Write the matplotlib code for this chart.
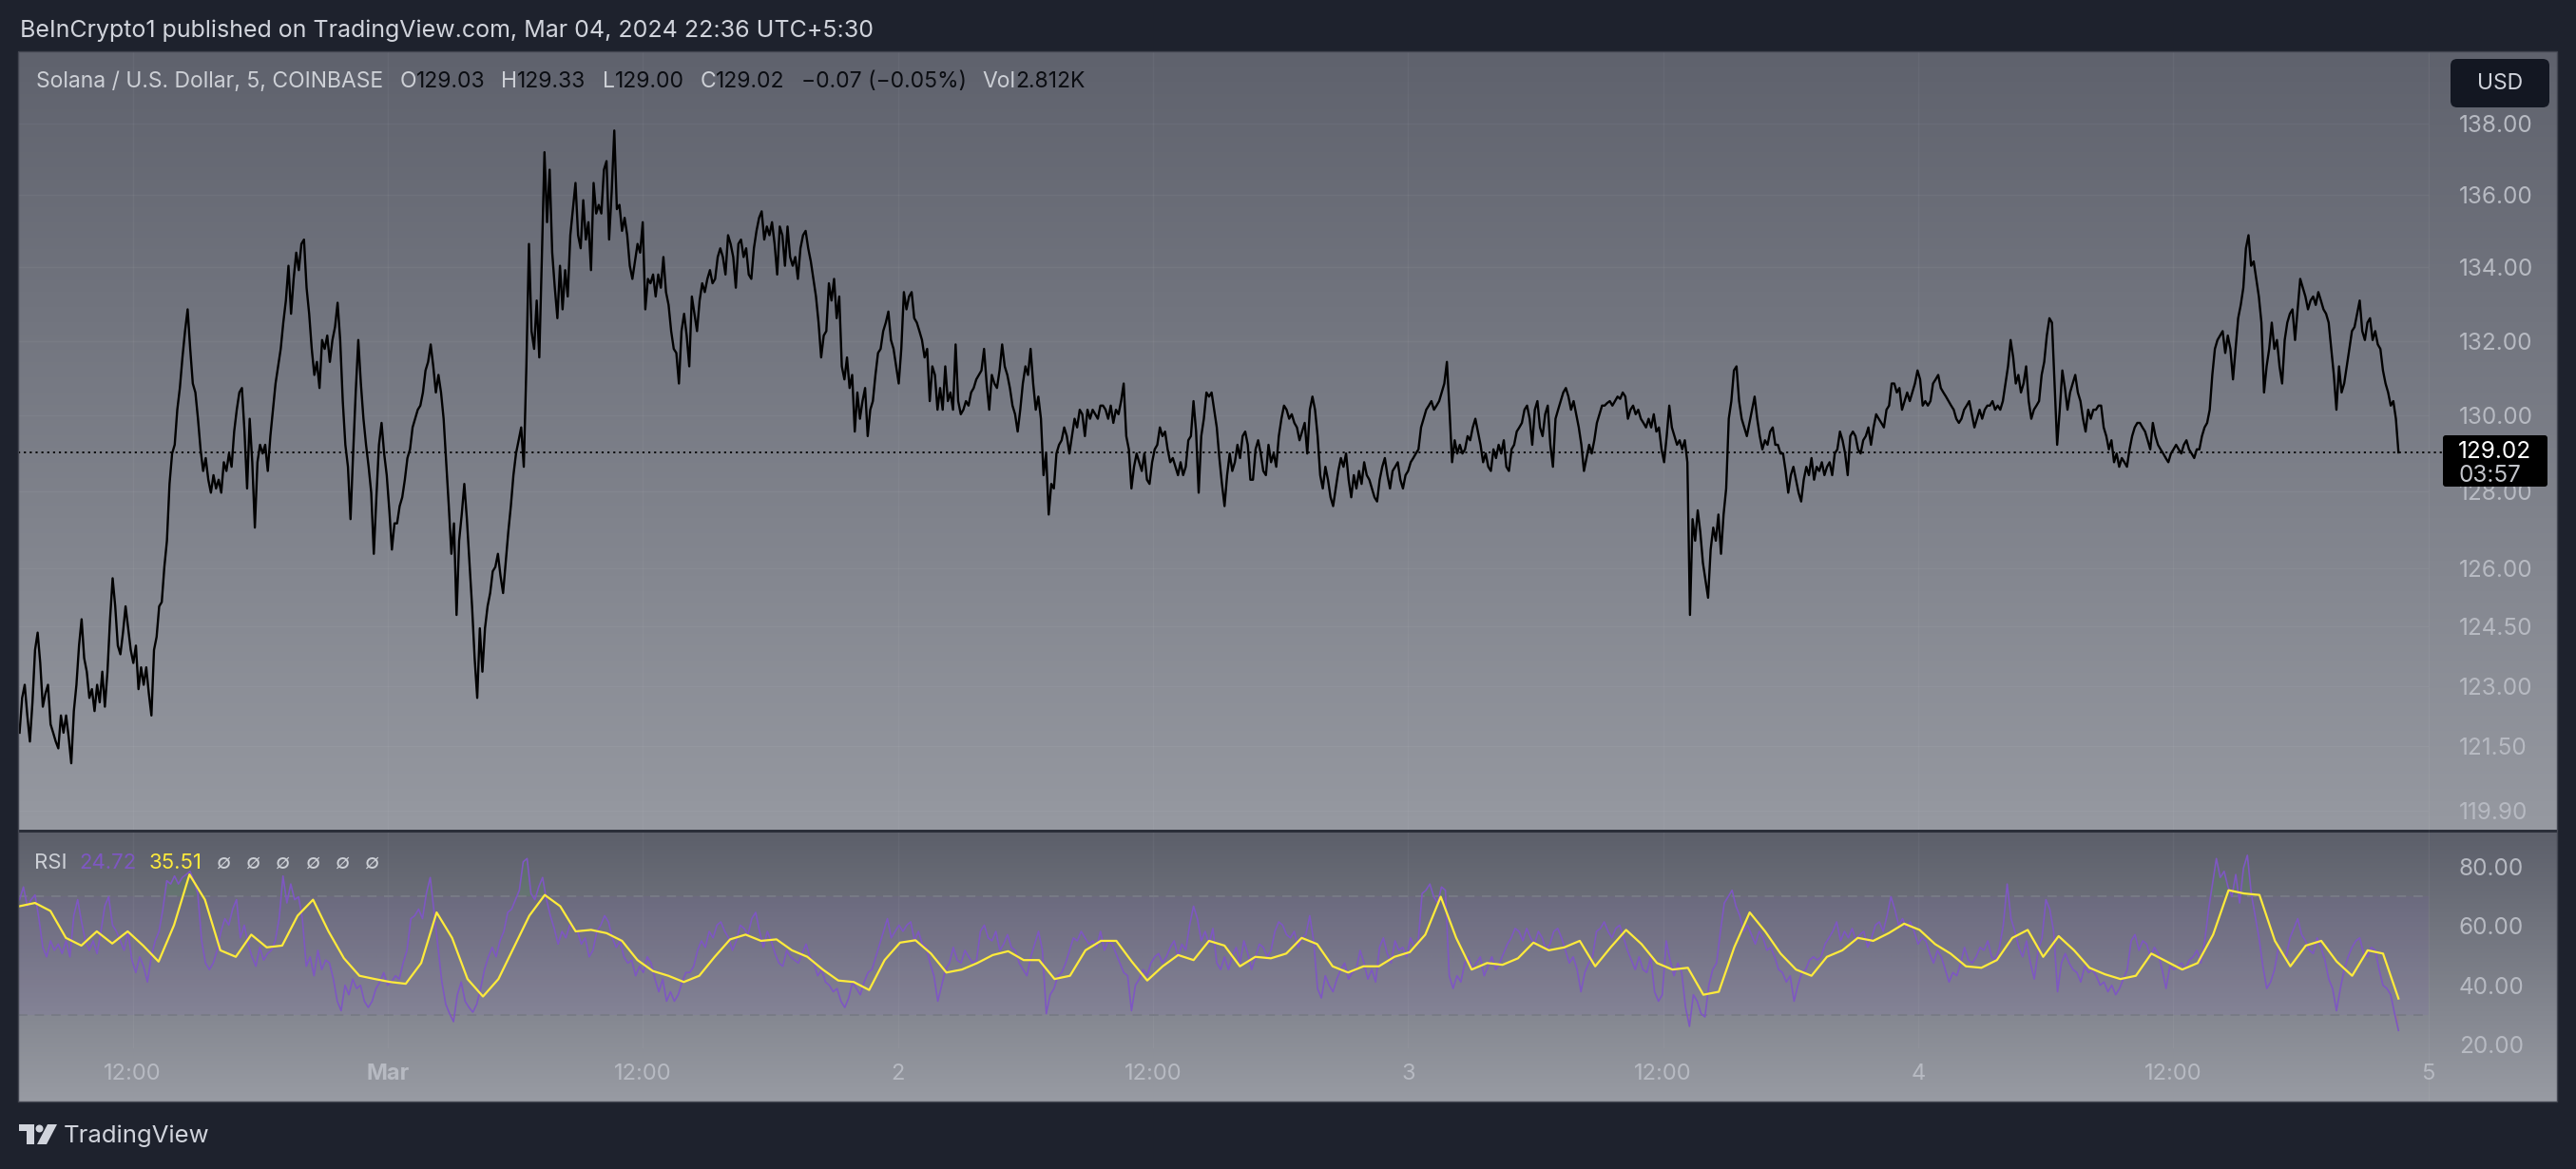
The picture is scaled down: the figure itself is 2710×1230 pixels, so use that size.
import numpy as np
import matplotlib
matplotlib.use("Agg")
import matplotlib.pyplot as plt
from matplotlib.patches import Rectangle, FancyBboxPatch, Circle, Polygon
from matplotlib.ticker import NullLocator, NullFormatter
from matplotlib.transforms import IdentityTransform

plt.rcParams['font.family'] = ['Inter', 'DejaVu Sans']

W, H = 2710, 1230

# texts shown on the chart
title = "BeInCrypto1 published on TradingView.com, Mar 04, 2024 22:36 UTC+5:30"
symbol = "Solana / U.S. Dollar, 5, COINBASE"
ohlc = [("O", "129.03"), ("H", "129.33"), ("L", "129.00"), ("C", "129.02")]
change = "\u22120.07 (\u22120.05%)"
volume = "2.812K"
countdown = "03:57"

# time in hours from Mar 1 00:00 (UTC+5:30), first and last 5 min bar
t_first, t_last = -17.33, 94.6
time_ticks = [-12, 0, 12, 24, 36, 48, 60, 72, 84, 96]
time_labels = ["12:00", "Mar", "12:00", "2", "12:00", "3", "12:00", "4", "12:00", "5"]
price_ticks = [119.90, 121.50, 123.00, 124.50, 126.00, 128.00, 130.00, 132.00, 134.00, 136.00, 138.00]
rsi_ticks = [20, 40, 60, 80]
last_price = 129.02
last_rsi = 24.72
last_rsi_ma = 35.51

# SOL/USD close
price = [
    121.83, 122.70, 123.03, 122.26, 121.61, 122.59, 123.91, 124.35, 123.58, 122.48,
    122.81, 123.03, 122.04, 121.83, 121.61, 121.44, 122.26, 121.83, 122.26, 121.72,
    121.07, 122.37, 123.03, 124.02, 124.69, 123.70, 123.36, 122.70, 122.92, 122.37,
    123.03, 122.59, 123.36, 122.48, 123.36, 124.69, 125.74, 125.02, 124.02, 123.80,
    124.35, 125.02, 124.46, 123.91, 123.58, 124.02, 122.92, 123.47, 123.03, 123.47,
    122.81, 122.26, 123.91, 124.24, 125.02, 125.13, 126.03, 126.71, 128.19, 128.99,
    129.22, 130.15, 130.73, 131.55, 132.26, 132.85, 131.78, 130.85, 130.61, 129.91,
    129.10, 128.53, 128.87, 128.30, 127.96, 128.42, 128.07, 128.30, 127.96, 128.76,
    128.53, 128.99, 128.64, 129.57, 130.15, 130.61, 130.73, 129.57, 128.07, 129.91,
    128.76, 127.05, 128.76, 129.22, 128.99, 129.22, 128.53, 129.45, 130.15, 130.85,
    131.31, 131.78, 132.49, 133.09, 134.04, 132.73, 133.68, 134.40, 133.92, 134.64,
    134.76, 133.44, 132.73, 131.78, 131.08, 131.43, 130.73, 132.02, 131.78, 132.14,
    131.43, 132.02, 132.37, 133.03, 132.02, 130.38, 129.22, 128.64, 127.27, 128.99,
    130.61, 132.02, 130.85, 129.91, 129.22, 128.64, 127.96, 126.37, 127.84, 129.22,
    129.80, 128.99, 128.42, 127.50, 126.48, 127.16, 127.16, 127.61, 127.84, 128.30,
    128.87, 129.10, 129.68, 129.91, 130.15, 130.26, 130.61, 131.20, 131.43, 131.90,
    131.31, 130.61, 131.08, 130.61, 129.91, 128.76, 127.61, 126.37, 127.16, 124.80,
    126.71, 127.39, 128.19, 127.27, 126.14, 125.02, 123.70, 122.70, 124.46, 123.36,
    124.46, 125.02, 125.36, 125.92, 126.03, 126.37, 125.80, 125.36, 126.14, 126.93,
    127.61, 128.42, 128.99, 129.34, 129.68, 128.64, 131.31, 134.64, 132.26, 131.78,
    133.09, 131.55, 134.28, 137.19, 135.24, 136.70, 134.40, 133.44, 132.61, 134.04,
    132.85, 133.92, 133.20, 134.88, 135.60, 136.33, 134.88, 134.52, 135.85, 134.76,
    135.24, 133.92, 136.33, 135.48, 135.72, 135.48, 136.70, 136.94, 134.76, 136.09,
    137.80, 135.60, 135.72, 135.00, 135.36, 134.88, 134.04, 133.68, 134.16, 134.64,
    134.40, 135.24, 132.85, 133.68, 133.56, 133.80, 133.20, 133.80, 133.44, 134.28,
    133.32, 132.97, 132.26, 131.78, 131.67, 130.85, 132.26, 132.73, 132.14, 131.31,
    133.20, 132.73, 132.26, 133.09, 133.56, 133.32, 133.68, 133.92, 133.56, 133.68,
    134.28, 134.52, 134.28, 133.80, 134.88, 134.64, 134.28, 133.44, 134.64, 134.76,
    134.28, 134.52, 133.80, 133.68, 134.52, 135.00, 135.36, 135.54, 134.76, 135.12,
    134.88, 135.24, 134.64, 133.80, 135.12, 134.88, 134.04, 135.12, 134.28, 134.04,
    134.28, 133.68, 134.52, 134.88, 135.00, 134.52, 134.16, 133.68, 133.20, 132.49,
    131.55, 132.14,
    132.26, 133.56, 133.09, 133.68, 132.61, 133.20, 131.31, 130.96, 131.55, 130.73,
    131.08, 129.57, 130.61, 129.91, 130.38, 130.73, 129.45, 130.15, 130.38, 131.08,
    131.67, 131.78, 132.26, 132.49, 132.79, 132.02, 131.78, 131.31, 130.85, 131.78,
    133.32, 132.85, 133.20, 133.32, 132.61, 132.49, 132.26, 132.02, 131.55, 131.78,
    130.38, 131.31, 131.08, 130.15, 130.73, 130.15, 131.31, 130.38, 130.61, 130.15,
    131.90, 130.38, 130.03, 130.15, 130.38, 130.26, 130.61, 130.73, 130.96, 131.08,
    131.20, 131.78, 130.85, 130.15, 131.08, 130.85, 130.73, 131.20, 131.90, 131.31,
    131.08, 130.73, 130.26, 130.03, 129.57, 130.15, 130.85, 131.31, 131.08, 131.78,
    130.85, 130.15, 130.50, 129.91, 128.42, 128.99, 127.39, 128.19, 128.07, 128.99,
    129.22, 129.34, 129.68, 129.45, 128.99, 129.45, 129.91, 129.68, 130.15, 130.03,
    129.45, 130.15, 129.91, 130.15, 130.03, 129.91, 130.26, 130.26, 130.15, 129.91,
    130.26, 129.80, 130.15, 130.03, 130.38, 130.85, 129.45, 129.10, 128.07, 128.64,
    128.99, 128.76, 128.53, 128.99, 128.30, 128.19, 128.76, 129.10, 129.22, 129.68,
    129.45, 129.57, 129.10, 128.76, 128.87, 128.64, 128.42, 128.76, 128.42, 128.64,
    129.34, 129.45, 130.38, 129.57, 127.96, 129.45, 129.91, 130.61, 130.50, 130.61,
    130.15, 129.68, 128.87, 128.19, 127.61, 128.42, 128.99, 128.53, 128.76, 129.22,
    128.87, 129.45, 129.57, 129.22, 128.30, 128.30, 129.10, 129.34, 128.99, 128.53,
    128.42, 129.22, 128.76, 128.99, 128.64, 129.45, 129.91, 130.26, 130.15, 129.91,
    130.03, 129.80, 129.68, 129.34, 129.57, 129.80, 128.99, 130.15, 130.50, 130.15,
    129.45, 128.42, 128.07, 128.64, 128.30, 127.84, 127.61, 128.07, 128.53, 128.87,
    128.64, 128.99, 128.30, 127.84, 128.42, 128.07, 128.53, 128.19, 128.76, 128.42,
    128.30, 128.07, 127.84, 127.73, 128.30, 128.64, 128.87, 128.42, 128.07, 128.53,
    128.64, 128.76, 128.30, 128.07, 128.42, 128.53, 128.76, 128.87, 128.99, 129.10,
    129.68, 129.91, 130.15, 130.26, 130.38, 130.15, 130.26, 130.38, 130.61, 130.85,
    131.43, 130.15, 128.76, 129.34, 128.99, 129.22, 128.99, 129.10, 129.45, 129.34,
    129.68, 129.91, 129.57, 129.22, 128.76, 128.99, 128.64, 128.53, 129.10, 128.87,
    129.22, 128.99, 129.34, 128.64, 128.53, 129.10, 129.22, 129.57, 129.68, 129.80,
    130.15, 130.26, 129.91, 129.22, 130.15, 130.38, 129.68, 129.45, 130.03, 130.26,
    129.22, 128.64, 129.91, 130.15, 130.38, 130.61, 130.73, 130.50, 130.15, 130.38,
    130.03, 129.68, 129.22, 128.53, 128.87, 129.22, 128.99, 129.34, 129.80, 130.03,
    130.26, 130.26, 130.33, 130.38, 130.26, 130.38, 130.50, 130.44, 130.61, 130.50,
    129.91,
    130.15, 130.26, 130.03, 130.15, 129.91, 129.80, 129.68, 129.91, 129.68, 130.03,
    129.57, 129.68, 129.10, 128.76, 129.45, 130.26, 129.68, 129.45, 129.22, 129.34,
    129.10, 129.34, 128.76, 124.80, 127.27, 126.71, 127.50, 126.93, 126.14, 125.69,
    125.24, 126.48, 127.05, 126.71, 127.39, 126.37, 127.39, 128.07, 129.91, 130.38,
    131.20, 131.31, 130.38, 129.91, 129.68, 129.45, 129.80, 130.15, 130.50, 129.91,
    129.45, 129.10, 129.34, 129.22, 129.57, 129.68, 129.22, 129.22, 128.99, 128.99,
    128.53, 127.96, 128.42, 128.64, 128.30, 127.96, 127.73, 128.30, 128.64, 128.42,
    128.87, 128.30, 128.64, 128.53, 128.76, 128.42, 128.64, 128.76, 128.42, 128.99,
    129.10, 129.57, 129.34, 128.99, 128.42, 129.45, 129.57, 129.45, 129.10, 128.99,
    129.34, 129.45, 129.68, 129.22, 129.68, 130.03, 129.91, 129.80, 129.68, 130.15,
    130.26, 130.85, 130.85, 130.61, 130.73, 130.15, 130.38, 130.61, 130.38, 130.61,
    130.85, 131.20, 130.96, 130.26, 130.38, 130.26, 130.38, 130.85, 130.96, 131.08,
    130.73, 130.61, 130.50, 130.38, 130.26, 130.15, 129.91, 129.80, 129.91, 130.15,
    130.26, 130.38, 130.03, 129.68, 129.91, 130.15, 129.91, 130.15, 130.26, 130.26,
    130.38, 130.15, 130.26, 130.15, 130.38, 130.85, 131.31, 132.02, 131.55, 130.85,
    131.08, 130.61, 130.85, 131.31, 130.38, 129.91, 130.15, 130.26, 130.38, 131.08,
    131.43, 132.14, 132.61, 132.49, 130.85, 129.22, 130.15, 131.20, 130.73, 130.15,
    130.61, 130.85, 131.08, 130.61, 130.38, 129.91, 129.57, 130.15, 129.91, 130.15,
    130.15, 130.26, 130.26, 129.68, 129.45, 129.10, 129.34, 128.76, 128.99, 128.64,
    128.87, 128.76, 128.64, 129.10, 129.45, 129.68, 129.80, 129.80, 129.68, 129.57,
    129.34, 129.10, 129.80, 129.45, 129.22, 129.10, 128.99, 128.87, 128.76, 128.99,
    129.10, 129.22, 129.10, 128.99, 129.22, 129.34, 129.10, 128.99, 128.87, 129.10,
    129.10, 129.45, 129.68, 129.80, 130.15, 131.08, 131.78, 132.02, 132.14, 132.26,
    131.67, 132.14, 131.78, 130.96, 131.78, 132.61, 132.97, 133.44, 134.52, 134.88,
    134.04, 134.16, 133.68, 133.20, 132.49, 130.61, 131.31, 131.78, 132.49, 131.78,
    132.02, 131.31, 130.85, 132.02, 132.49, 132.73, 132.85, 132.02, 132.85, 133.68,
    133.44, 133.20, 132.85, 133.09, 133.20, 132.97, 133.32, 133.09, 132.85, 132.73,
    132.49, 131.78, 131.08, 130.15, 131.31, 130.61, 130.85, 131.31, 131.78, 132.26,
    132.37, 132.73, 133.09, 132.26, 132.02, 132.49, 132.61, 132.02, 132.26, 131.90,
    131.78, 131.20, 130.85, 130.61, 130.26, 130.38, 129.91, 129.02,
]

# RSI (14)
rsi = [
    68.9, 73.2, 66.7, 68.9, 70.5, 62.5, 52.8, 49.6, 55.0, 51.8,
    53.9, 50.7, 55.0, 49.6, 63.5, 68.9, 61.4, 55.0, 51.8, 55.0,
    50.7, 58.2, 66.7, 69.9, 60.3, 58.2, 55.0, 51.8, 58.2, 48.5,
    44.3, 49.6, 46.4, 41.1, 49.6, 55.0, 58.2, 65.7, 75.3, 74.2,
    76.9, 74.2, 76.4, 77.4, 78.5, 75.3, 71.0, 55.0, 47.5, 45.3,
    47.5, 51.8, 58.2, 62.5, 60.3, 65.7, 68.9, 56.0, 60.3, 53.9,
    49.6, 46.4, 52.8, 48.5, 50.7, 51.8, 55.0, 62.5, 76.9, 67.8,
    74.2, 68.9, 69.9, 62.5, 46.4, 49.6, 43.2, 51.8, 45.3, 48.5,
    47.5, 42.1, 34.6, 31.4, 40.0, 36.8, 42.1, 38.9, 40.0, 34.6,
    32.5, 34.6, 38.9, 41.1, 44.3, 40.0, 41.1, 43.2, 42.1, 47.5,
    51.8, 62.5, 63.5, 65.7, 62.5, 71.0, 76.4, 64.6, 52.8, 41.1,
    33.6, 30.4, 27.7, 36.8, 41.1, 34.6, 32.5, 30.9, 33.6, 38.9,
    45.3, 49.6, 52.8, 49.6, 55.0, 58.2, 64.6, 65.7, 68.9, 72.1,
    81.7, 82.8, 71.0, 68.9, 73.2, 76.4, 68.9, 63.5, 59.2, 53.9,
    58.2, 56.0, 60.3, 59.2, 58.2, 53.9, 56.0, 49.6, 51.8, 58.2,
    60.3, 63.5, 61.4, 56.0, 52.8, 55.0, 49.6, 47.5, 48.5, 43.2,
    46.4, 44.3, 49.6, 47.5, 42.1, 37.8, 42.1, 34.6, 37.8, 34.6,
    36.8, 41.1, 44.3, 44.3, 46.4, 51.8, 55.0, 52.8, 58.2, 56.0,
    60.3, 61.4, 58.2, 56.0, 51.8, 55.0, 60.3, 59.2, 57.1, 62.5,
    64.6, 58.2, 52.8, 58.2, 55.0, 50.7, 47.5, 46.4, 51.8, 49.6,
    48.5, 47.5, 50.7, 53.9, 49.6, 47.5, 43.2, 45.3, 41.1, 40.0,
    37.8, 38.9, 34.6, 32.5, 35.7, 41.1, 38.9, 36.8, 41.1, 44.3,
    45.3, 49.6, 53.9, 58.2, 62.5, 56.0, 58.2, 60.3, 58.2, 60.3,
    61.4, 55.0, 58.2, 53.9, 52.8, 47.5, 43.2, 34.6, 40.0, 45.3,
    47.5, 52.8, 48.5, 47.5, 51.8, 49.6, 47.5, 48.5, 58.2, 60.3,
    56.0, 55.0, 58.2, 51.8, 53.9, 57.1, 52.8, 51.8, 47.5, 45.3,
    43.2, 49.6, 53.9, 58.2, 51.8, 30.4, 36.8, 38.9, 43.2, 44.3,
    47.5, 51.8, 56.0, 55.0, 58.2, 56.0, 53.9, 55.0, 52.8, 58.2,
    51.8, 55.0, 53.9, 50.7, 47.5, 44.3, 43.2, 31.4, 40.0, 42.1,
    45.3, 43.2, 47.5, 49.6, 50.7, 47.5, 49.6, 52.8, 55.0, 49.6,
    53.9, 51.8, 60.3, 66.7, 62.5, 55.0, 58.2, 53.9, 59.2, 47.5,
    45.3, 49.6,
    45.3, 49.6, 52.8, 47.5, 55.0, 50.7, 45.3, 49.6, 53.9, 52.8,
    49.6, 51.8, 58.2, 61.4, 60.3, 57.1, 56.0, 58.2, 52.8, 56.0,
    57.1, 63.5, 55.0, 38.9, 35.7, 43.2, 40.0, 37.8, 42.1, 45.3,
    47.5, 42.1, 44.3, 45.3, 51.8, 47.5, 42.1, 45.3, 41.1, 52.8,
    56.0, 50.7, 47.5, 55.0, 51.8, 52.8, 49.6, 56.0, 52.8, 55.0,
    71.0, 72.1, 74.2, 69.9, 67.8, 73.2, 72.1, 43.2, 38.9, 43.2,
    41.1, 47.5, 49.6, 45.3, 47.5, 49.6, 43.2, 46.4, 49.6, 45.3,
    47.5, 50.7, 53.9, 56.0, 59.2, 58.2, 55.0, 59.2, 56.0, 53.9,
    58.2, 56.0, 51.8, 53.9, 58.2, 59.2, 56.0, 51.8, 47.5, 49.6,
    45.3, 37.8, 44.3, 47.5, 49.6, 58.2, 59.2, 61.4, 58.2, 56.0,
    59.2, 60.3, 56.0, 51.8, 48.5, 45.3, 49.6, 45.3, 44.3, 49.6,
    37.8, 34.6, 36.8, 55.0, 48.5, 43.2, 47.5, 44.3, 32.5, 26.1,
    36.8, 34.6, 30.4, 29.3, 40.0, 45.3, 47.5, 58.2, 67.8, 69.9,
    72.1, 66.7, 63.5, 58.2, 60.3, 57.1, 53.9, 58.2, 56.0, 51.8,
    52.8, 49.6, 45.3, 44.3, 41.1, 43.2, 34.6, 40.0, 44.3, 45.3,
    48.5, 49.6, 48.5, 49.6, 53.9, 56.0, 58.2, 61.4, 55.0, 58.2,
    56.0, 59.2, 55.0, 57.1, 58.2, 52.8, 56.0, 60.3, 61.4, 58.2,
    63.5, 69.9, 65.7, 60.3, 62.5, 59.2, 61.4, 58.2, 53.9, 56.0,
    55.0, 50.7, 47.5, 51.8, 49.6, 45.3, 41.1, 44.3, 43.2, 47.5,
    52.8, 48.5, 47.5, 49.6, 52.8, 51.8, 55.0, 49.6, 48.5, 52.8,
    60.3, 74.2, 62.5, 58.2, 52.8, 49.6, 55.0, 47.5, 42.1, 51.8,
    56.0, 68.9, 65.7, 58.2, 37.8, 47.5, 50.7, 47.5, 45.3, 44.3,
    41.1, 46.4, 44.3, 45.3, 43.2, 40.0, 41.1, 37.8, 40.0, 36.8,
    38.9, 42.1, 45.3, 55.0, 57.1, 51.8, 55.0, 53.9, 49.6, 52.8,
    50.7, 45.3, 38.9, 46.4, 45.3, 46.4, 47.5, 45.3, 48.5, 49.6,
    51.8, 47.5, 55.0, 65.7, 74.2, 82.8, 76.4, 78.5, 73.2, 69.9,
    77.4, 67.8, 79.6, 83.9, 71.0, 63.5, 56.0, 46.4, 38.9, 41.1,
    45.3, 52.8, 50.7, 49.6, 56.0, 59.2, 62.5, 57.1, 55.0, 51.8,
    50.7, 56.0, 52.8, 48.5, 42.1, 38.9, 31.4, 38.9, 45.3, 49.6,
    52.8, 55.0, 56.0, 50.7, 49.6, 52.8, 51.8, 45.3, 40.0, 38.9,
    36.8, 30.4, 24.72,
]

# RSI-based moving average (yellow)
rsi_ma = [
    66.7, 67.8, 65.1, 56.0, 53.4, 58.2, 54.1, 58.2, 53.4, 48.0,
    60.3, 77.4, 68.9, 51.8, 49.6, 57.1, 52.8, 53.4, 63.5, 68.9,
    58.2, 49.1, 43.2, 42.1, 41.1, 40.5, 47.5, 64.6, 56.0, 42.1,
    36.2, 42.1, 52.8, 63.5, 70.5, 66.7, 58.2, 58.7, 57.6, 55.0,
    48.5, 44.8, 43.2, 41.1, 43.2, 49.6, 55.5, 57.1, 55.0, 55.5,
    51.8, 49.6, 45.3, 41.6, 41.1, 38.4, 48.5, 54.4, 55.2, 50.7,
    44.3, 45.3, 47.5, 50.2, 51.5, 48.5, 48.5, 42.1, 43.2, 51.8,
    55.0, 55.0, 48.0, 41.6, 46.4, 50.2, 48.5, 55.0, 53.4,
    46.4, 49.6, 49.1, 50.7, 56.0, 53.9, 46.4, 44.3, 46.4, 46.4,
    49.6, 51.2, 57.1, 69.9, 56.0, 45.3, 47.5, 46.9, 49.1, 54.4,
    51.8, 52.8, 55.0, 46.4, 52.8, 58.7, 53.9, 47.5, 45.3, 45.9,
    36.8, 37.8, 52.8, 64.6, 58.2, 50.7, 45.3, 43.2, 49.6, 51.8,
    56.0, 55.0, 57.6, 60.8, 58.7, 53.9, 50.7, 46.4, 45.9, 48.5,
    56.0, 58.7, 49.6, 56.6, 51.8, 45.9, 43.7, 42.1, 43.2, 50.7,
    48.0, 45.3, 47.5, 57.1, 72.1, 71.0, 70.5, 55.0, 46.4, 53.4,
    55.0, 48.0, 43.2, 51.8, 50.7, 35.51,
]


def fx(x):
    return x / W


def fy(y):
    return 1 - y / H


def box(x0, y0, x1, y1):
    # pixel box (top-left origin) -> figure rect
    return [fx(x0), fy(y1), fx(x1) - fx(x0), fy(y0) - fy(y1)]


fig = plt.figure(figsize=(W / 100, H / 100), dpi=100, facecolor='#1e222d')


def gradient(rect, top, bottom):
    g = fig.add_axes(rect, zorder=-10)
    g.axis('off')
    c = np.linspace(np.array(top, float), np.array(bottom, float), 256) / 255
    g.imshow(c[:, None, :], aspect='auto', extent=[0, 1, 0, 1])


gradient(box(19, 54, 2690, 875), (95, 98, 109), (150, 153, 161))
gradient(box(19, 875, 2690, 1159), (92, 95, 106), (152, 155, 163))

X0, X1 = 19, 2555
XLIM = (-17.4, 96.02)
tick_color = '#b7bac2'
fs = 17.5

# price pane
ax = fig.add_axes(box(X0, 54, X1, 875))
ax.patch.set_alpha(0)
t_p = np.linspace(t_first, t_last, len(price))
ax.plot(t_p, price, color='black', lw=1.7)
ax.set_yscale('log')
ax.set_xlim(*XLIM)
ax.set_ylim(119.39, 140.05)
ax.set_yticks(price_ticks, [f"{v:.2f}" for v in price_ticks])
ax.yaxis.set_minor_locator(NullLocator())
ax.yaxis.set_minor_formatter(NullFormatter())
ax.yaxis.tick_right()
ax.tick_params(axis='y', length=0, pad=23, labelsize=fs, labelcolor=tick_color)
ax.set_xticks(time_ticks)
ax.tick_params(axis='x', length=0, labelbottom=False)
ax.grid(True, color='white', alpha=0.045, lw=1)
for s in ax.spines.values():
    s.set_visible(False)
ax.axhline(last_price, xmax=1.006, color='black', lw=1.3, ls=(0, (1.2, 2.2)), clip_on=False)

# RSI pane
ax2 = fig.add_axes(box(X0, 875, X1, 1103))
ax2.patch.set_alpha(0)
t_r = np.linspace(t_first, t_last, len(rsi))
t_m = np.linspace(t_first, t_last, len(rsi_ma))
r_arr = np.array(rsi)
ax2.axhspan(30, 70, color='#7e57c2', alpha=0.1, lw=0)
ax2.axhline(70, color='#787b86', lw=1.4, ls=(0, (5, 4)))
ax2.axhline(50, color='#787b86', lw=1.1, ls=(0, (1, 2)), alpha=0.5)
ax2.axhline(30, color='#787b86', lw=1.4, ls=(0, (5, 4)))
ax2.fill_between(t_r, r_arr, 70, where=r_arr > 70, interpolate=True, color='#4caf50', alpha=0.12, lw=0)
ax2.fill_between(t_r, r_arr, 30, where=r_arr < 30, interpolate=True, color='#f23645', alpha=0.1, lw=0)
ax2.plot(t_r, rsi, color='#7e57c2', lw=1.2)
ax2.plot(t_m, rsi_ma, color='#ffeb3b', lw=1.6)
ax2.set_xlim(*XLIM)
ax2.set_ylim(18.7, 91.9)
ax2.set_yticks(rsi_ticks, [f"{v:.2f}" for v in rsi_ticks])
ax2.yaxis.tick_right()
ax2.tick_params(axis='y', length=0, pad=23, labelsize=fs, labelcolor=tick_color)
ax2.set_xticks(time_ticks, time_labels)
ax2.tick_params(axis='x', length=0, pad=11.5, labelsize=17, labelcolor=tick_color)
ax2.xaxis.get_major_ticks()[1].label1.set_fontweight('bold')
ax2.grid(True, axis='x', color='white', alpha=0.045, lw=1)
for s in ax2.spines.values():
    s.set_visible(False)

# pane separator, price-scale divider and outer frame
px = IdentityTransform()
fig.add_artist(Rectangle((19, H - 876), 2671, 3, transform=px, fc='#2a2e39', ec='none', zorder=4))
fig.add_artist(Rectangle((2555, H - 1159), 1, 1105, transform=px, fc='white', alpha=0.05, ec='none', zorder=4))
fig.add_artist(Rectangle((19, H - 1159), 2671, 1105, transform=px, fill=False, ec='#434651', lw=1, zorder=4))

# texts
renderer = fig.canvas.get_renderer()


def write(x, y, parts, size):
    for s, c, gap in parts:
        t = fig.text(fx(x), fy(y), s, color=c, fontsize=size, ha='left', va='center', zorder=6)
        x += t.get_window_extent(renderer).width + gap


fig.text(fx(21), fy(32), title, color='#d1d4dc', fontsize=18, va='center')

gray = '#cdd0d6'
dark = '#0b0d12'
parts = [(symbol, gray, 17)]
for k, v in ohlc:
    parts += [(k, gray, 0), (v, dark, 17)]
parts += [(change, dark, 17), ("Vol", gray, 0), (volume, dark, 0)]
write(38, 86, parts, 16.5)

rsi_parts = [("RSI", gray, 13), (f"{last_rsi:.2f}", '#7e57c2', 13), (f"{last_rsi_ma:.2f}", '#ffeb3b', 15)]
rsi_parts += [("\u2205", gray, 16)] * 6
write(36, 908, rsi_parts, 16)

# USD button and last price label
fig.add_artist(FancyBboxPatch((2578, H - 113), 104, 51, boxstyle="round,pad=0,rounding_size=7",
                              transform=px, fc='#131722', ec='none', zorder=5))
fig.text(fx(2630), fy(88), "USD", color='#d1d4dc', fontsize=16.5, ha='center', va='center', zorder=6)
fig.add_artist(FancyBboxPatch((2570, H - 512), 110, 54, boxstyle="round,pad=0,rounding_size=3",
                              transform=px, fc='black', ec='none', zorder=5))
fig.text(fx(2586), fy(476), f"{last_price:.2f}", color='white', fontsize=fs, va='center', zorder=6)
fig.text(fx(2586), fy(501), countdown, color='#c3c5cb', fontsize=fs, va='center', zorder=6)

# TradingView logo
lg = fig.add_axes(box(18, 1180, 62, 1208))
lg.set_xlim(18, 62)
lg.set_ylim(1208, 1180)
lg.axis('off')
logo_c = '#d1d4dc'
lg.add_patch(Rectangle((20, 1183), 16, 7, fc=logo_c, ec='none'))
lg.add_patch(Rectangle((28, 1183), 8, 21, fc=logo_c, ec='none'))
lg.add_patch(Circle((41.5, 1187.5), 4, fc=logo_c, ec='none'))
lg.add_patch(Polygon([(50, 1183), (60, 1183), (49, 1204), (39, 1204)], fc=logo_c, ec='none'))
fig.text(fx(67), fy(1195), "TradingView", color=logo_c, fontsize=18.5, va='center')

fig.savefig('out.png', dpi=100, facecolor=fig.get_facecolor())
